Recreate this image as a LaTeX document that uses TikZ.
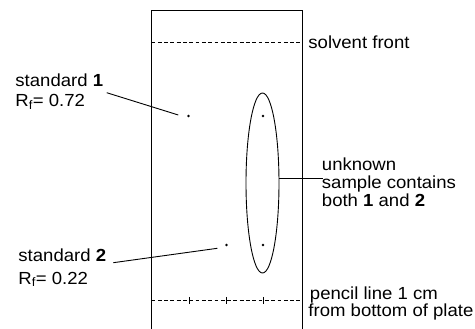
\documentclass[tikz,border=0pt]{standalone}
\usepackage{fontspec}
\setmainfont{Liberation Sans}[FakeStretch=1.06]
\usetikzlibrary{shapes.geometric}
\begin{document}
\begin{tikzpicture}[x=1pt,y=-1pt,
  line width=0.9pt,
  lbl/.style={anchor=base west,inner sep=0pt,font=\fontsize{17.5}{20}\selectfont},
  spot/.style={circle,fill=black,inner sep=0pt,minimum size=2.8pt},
  front/.style={dash pattern=on 3.8pt off 2.5pt},
  conn/.style={line width=0.9pt}]
\useasboundingbox (0,0) rectangle (475,329);
% plate
\coordinate (pbl) at (151.5,329);
\coordinate (ptl) at (151.5,10);
\coordinate (ptr) at (302,10);
\coordinate (pbr) at (302,329);
\draw (pbl) -- (ptl) -- (ptr) -- (pbr);
% solvent front and pencil line
\coordinate (sfl) at (151.5,42);
\coordinate (sfr) at (302,42);
\draw[front] (sfl) -- (sfr);
\coordinate (pll) at (151.5,300.5);
\coordinate (plr) at (302,300.5);
\draw[front] (pll) -- (plr);
\foreach \x/\n in {189/t1,226/t2,263/t3}{
  \coordinate (\n a) at (\x,297);
  \coordinate (\n b) at (\x,304);
  \draw[line width=0.8pt] (\n a) -- (\n b);
}
% spots
\node[spot] (s1) at (188.5,116) {};
\node[spot] (s2) at (226.5,245) {};
\node[spot] (u1) at (263,116) {};
\node[spot] (u2) at (263,245) {};
% ellipse
\node[draw,ellipse,minimum width=33pt,minimum height=180pt,inner sep=0pt,line width=0.9pt] (ell) at (262.5,183) {};
% labels
\node[lbl] (sf) at (308,49) {solvent front};
\node[lbl] (pl1) at (309.5,299) {pencil line 1 cm};
\node[lbl] (pl2) at (308,316.5) {from bottom of plate};
\node[lbl] (un1) at (321.5,170.5) {unknown};
\node[lbl] (un2) at (321.5,188.5) {sample contains};
\node[lbl] (un3) at (321.5,206.5) {both \textbf{1} and \textbf{2}};
\node[lbl] (st1a) at (15,86.5) {standard \textbf{1}};
\node[lbl] (st1b) at (15,106.5) {R\textsubscript{f}= 0.72};
\node[lbl] (st2a) at (18,261.5) {standard \textbf{2}};
\node[lbl] (st2b) at (18,284) {R\textsubscript{f}= 0.22};
% connectors
\coordinate (c1a) at (106.7,92.7);
\coordinate (c1b) at (178.3,115);
\draw[conn] (c1a) -- (c1b);
\coordinate (c2a) at (113.3,262.7);
\coordinate (c2b) at (217.3,248.3);
\draw[conn] (c2a) -- (c2b);
\coordinate (c3a) at (279,178.7);
\coordinate (c3b) at (323,178.7);
\draw[conn] (c3a) -- (c3b);
\end{tikzpicture}
\end{document}
